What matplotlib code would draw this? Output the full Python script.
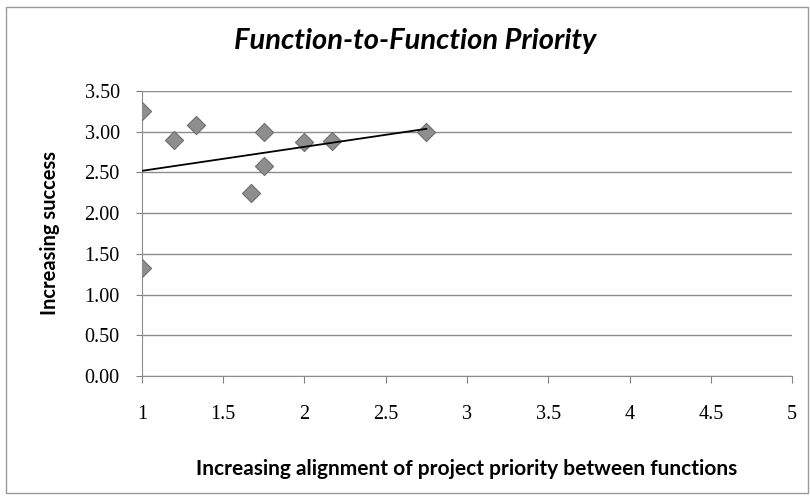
import matplotlib.pyplot as plt
import numpy as np
from matplotlib.patches import Rectangle

# alignment score vs success score
alignment = [1.0, 1.2, 1.33, 1.75, 1.75, 1.67, 2.0, 2.17, 2.75, 1.0]
success = [3.25, 2.9, 3.08, 3.0, 2.58, 2.25, 2.87, 2.89, 3.0, 1.33]

x_ticks = [1, 1.5, 2, 2.5, 3, 3.5, 4, 4.5, 5]
x_tick_labels = ['1', '1.5', '2', '2.5', '3', '3.5', '4', '4.5', '5']
y_ticks = [0.0, 0.5, 1.0, 1.5, 2.0, 2.5, 3.0, 3.5]
y_tick_labels = ['%.2f' % v for v in y_ticks]

fig = plt.figure(figsize=(8.1, 4.96), dpi=100)
ax = fig.add_axes([0.1753, 0.242, 0.8025, 0.5745])

# outer chart border
fig.patches.append(Rectangle((6 / 810, 3 / 496), 802 / 810, 486 / 496,
                             transform=fig.transFigure, fill=False,
                             edgecolor='#9a9a9a', linewidth=1.0))

ax.set_xlim(1, 5)
ax.set_ylim(0, 3.5)
ax.set_xticks(x_ticks)
ax.set_xticklabels(x_tick_labels, family='Liberation Serif', fontsize=14.5)
ax.set_yticks(y_ticks)
ax.set_yticklabels(y_tick_labels, family='Liberation Serif', fontsize=14.5)
ax.tick_params(axis='x', length=5, color='#808080', pad=16)
ax.tick_params(axis='y', length=4, color='#808080', pad=12)

ax.grid(axis='y', color='#8c8c8c', linewidth=1.0)
ax.set_axisbelow(True)
for side in ['top', 'right']:
    ax.spines[side].set_visible(False)
ax.spines['left'].set_color('#8c8c8c')
ax.spines['bottom'].set_color('#8c8c8c')

ax.scatter(alignment, success, marker='D', s=85, color='#8e8e8e',
           edgecolor='#6e6e6e', linewidth=0.8, zorder=3)

# linear trend over the data range
slope, intercept = np.polyfit(alignment, success, 1)
xs = np.array([min(alignment), max(alignment)])
ax.plot(xs, slope * xs + intercept, color='black', linewidth=1.3, zorder=4)

fig.text(0.512, 0.918, 'Function-to-Function Priority', ha='center', va='center',
         family='Lato', fontsize=21, fontweight='bold', style='italic')
ax.set_ylabel('Increasing success', family='Lato', fontsize=14.5,
              fontweight='bold', labelpad=18)
ax.set_xlabel('Increasing alignment of project priority between functions',
              family='Lato', fontsize=15, fontweight='bold', labelpad=25)

fig.savefig('out.png', dpi=100)
